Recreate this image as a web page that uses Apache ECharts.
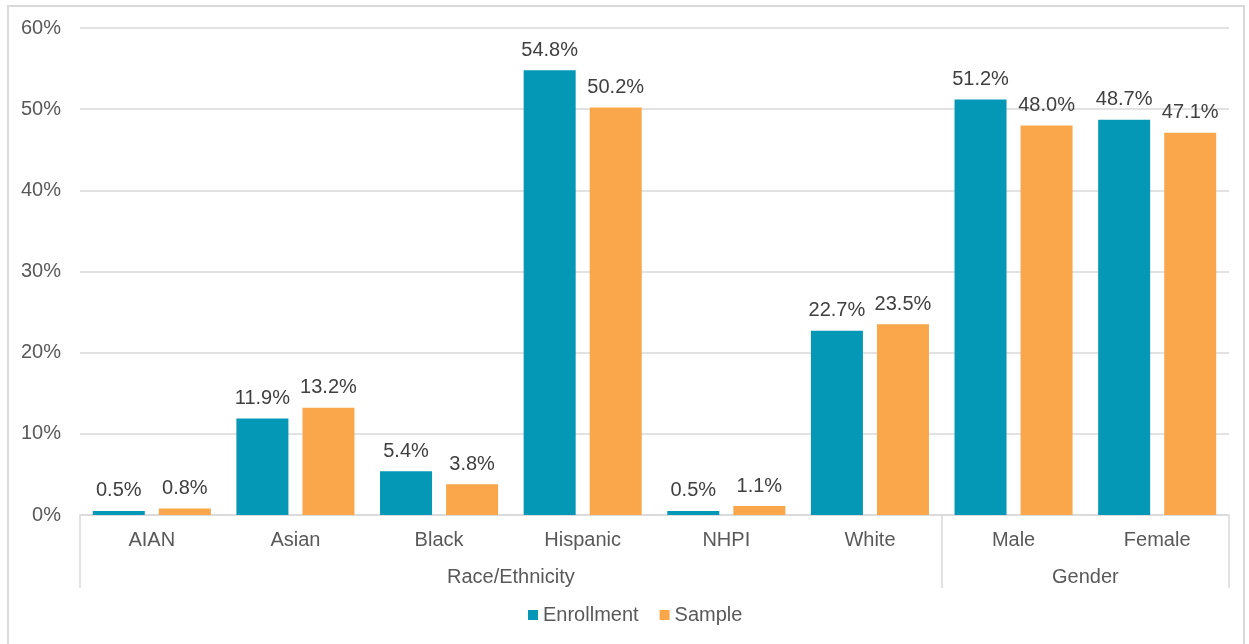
<!DOCTYPE html>
<html>
<head>
<meta charset="utf-8">
<script src="https://cdn.jsdelivr.net/npm/echarts@6/dist/echarts.min.js"></script>
<style>
html,body{margin:0;padding:0;background:#fff;}
#frame{position:absolute;left:7px;top:5px;width:1238px;height:660px;border:2px solid #d9d9d9;box-sizing:border-box;}
#chart{position:absolute;left:0;top:0;width:1249px;height:644px;}
</style>
</head>
<body>
<div id="frame"></div>
<div id="chart"></div>
<script>
const categories = ['AIAN','Asian','Black','Hispanic','NHPI','White','Male','Female'];
const enrollment = [0.5, 11.9, 5.4, 54.8, 0.5, 22.7, 51.2, 48.7];
const sample = [0.8, 13.2, 3.8, 50.2, 1.1, 23.5, 48.0, 47.1];
const groupNames = ['Race/Ethnicity','Gender'];
const groupSizes = [6, 2];
const yTicks = [0, 10, 20, 30, 40, 50, 60];

const bounds = [0];
const centers = [];
groupSizes.forEach((s, i) => { centers.push(bounds[i] + s / 2); bounds.push(bounds[i] + s); });

const textColor = '#595959';
const gridColor = '#d9d9d9';
const font = 'Liberation Sans, Arial, sans-serif';
const fs = 20;

const chart = echarts.init(document.getElementById('chart'), null, {renderer: 'canvas'});
chart.setOption({
  animation: false,
  textStyle: {fontFamily: font},
  grid: {left: 80, right: 20, top: 28, bottom: 129, containLabel: false},
  legend: {
    bottom: 14, left: 523,
    itemWidth: 10, itemHeight: 10, itemGap: 21,
    icon: 'rect',
    textStyle: {color: textColor, fontSize: fs, fontFamily: font},
    data: ['Enrollment', 'Sample']
  },
  xAxis: [
    {
      type: 'category', data: categories, position: 'bottom',
      axisLine: {lineStyle: {color: gridColor, width: 1.5}},
      axisTick: {show: false},
      axisLabel: {color: textColor, fontSize: fs, margin: 15, fontFamily: font}
    },
    {
      type: 'value', min: 0, max: bounds[bounds.length - 1], position: 'bottom',
      axisLine: {show: false},
      splitLine: {show: false},
      axisTick: {show: true, customValues: bounds, length: 73, lineStyle: {color: gridColor, width: 1.5}},
      axisLabel: {
        customValues: centers, color: textColor, fontSize: fs, margin: 52, fontFamily: font,
        formatter: v => { const i = centers.indexOf(v); return i >= 0 ? groupNames[i] : ''; }
      }
    }
  ],
  yAxis: {
    type: 'value', min: yTicks[0], max: yTicks[yTicks.length - 1], interval: 10,
    axisLine: {show: false}, axisTick: {show: false},
    splitLine: {lineStyle: {color: gridColor, width: 1.5}},
    axisLabel: {color: textColor, fontSize: fs, margin: 19, formatter: '{value}%', fontFamily: font}
  },
  series: [
    {
      name: 'Enrollment', type: 'bar', data: enrollment, barWidth: 52, barGap: '27%',
      itemStyle: {color: '#0497b6'},
      label: {show: true, position: 'top', distance: 10, color: '#404040', fontSize: fs, fontFamily: font,
        formatter: p => p.value.toFixed(1) + '%'}
    },
    {
      name: 'Sample', type: 'bar', data: sample, barWidth: 52, barGap: '27%',
      itemStyle: {color: '#f9a74a'},
      label: {show: true, position: 'top', distance: 10, color: '#404040', fontSize: fs, fontFamily: font,
        formatter: p => p.value.toFixed(1) + '%'}
    }
  ]
});
</script>
</body>
</html>
